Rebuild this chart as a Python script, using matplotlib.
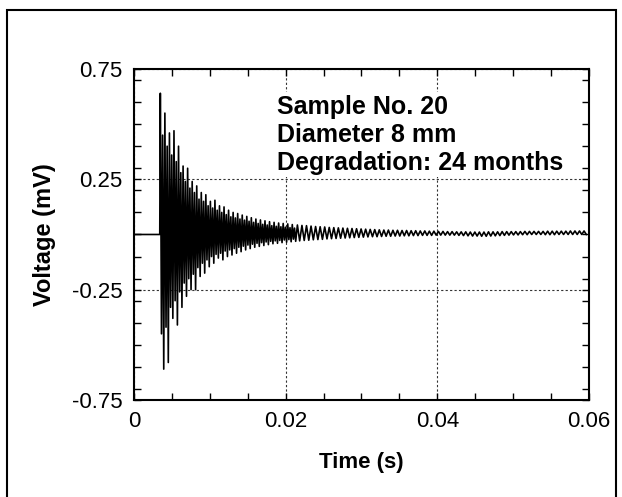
import matplotlib
matplotlib.use("Agg")
import matplotlib.pyplot as plt
from matplotlib.patches import Rectangle
from matplotlib.ticker import MultipleLocator
import numpy as np

plt.rcParams['font.family'] = ['Liberation Sans', 'DejaVu Sans']

# signal starts at the trigger time, one peak and one trough per cycle
t_start = 0.0034
period = 0.0006

# peak (max) voltage of each cycle, mV
peaks = [0.64, 0.55, 0.46, 0.47, 0.40, 0.31, 0.30, 0.24, 0.22, 0.19,
         0.18, 0.15, 0.155, 0.13, 0.125, 0.11, 0.10, 0.095, 0.088, 0.082,
         0.076, 0.07, 0.066, 0.062, 0.058, 0.055, 0.052, 0.05, 0.048, 0.045,
         0.043, 0.041, 0.04, 0.038, 0.036, 0.035, 0.034, 0.032, 0.031, 0.03,
         0.029, 0.028, 0.027, 0.026, 0.025, 0.024, 0.023, 0.022, 0.021, 0.02,
         0.02, 0.019, 0.019, 0.018, 0.018, 0.017, 0.017, 0.016, 0.016, 0.015,
         0.015, 0.014, 0.014, 0.013, 0.013, 0.012, 0.012, 0.012, 0.011, 0.011,
         0.011, 0.011, 0.012, 0.012, 0.012, 0.013, 0.013, 0.013, 0.013, 0.013,
         0.014, 0.014, 0.014, 0.014, 0.014, 0.015, 0.015, 0.015, 0.015, 0.015,
         0.016, 0.016, 0.016, 0.016]

# trough (min) voltage of each cycle, mV
troughs = [-0.61, -0.58, -0.38, -0.41, -0.33, -0.28, -0.25, -0.25, -0.19, -0.175,
           -0.146, -0.13, -0.107, -0.115, -0.10, -0.093, -0.085, -0.078, -0.07, -0.064,
           -0.058, -0.054, -0.05, -0.046, -0.042, -0.04, -0.037, -0.035, -0.033, -0.031,
           -0.029, -0.027, -0.026, -0.024, -0.023, -0.022, -0.02, -0.019, -0.018, -0.017,
           -0.016, -0.015, -0.014, -0.013, -0.012, -0.011, -0.01, -0.01, -0.009, -0.008,
           -0.008, -0.007, -0.007, -0.006, -0.006, -0.005, -0.005, -0.004, -0.004, -0.004,
           -0.003, -0.003, -0.003, -0.003, -0.003, -0.004, -0.005, -0.006, -0.007, -0.007,
           -0.008, -0.008, -0.007, -0.006, -0.005, -0.004, -0.003, -0.002, -0.002, -0.001,
           -0.001, 0.0, 0.0, 0.0, -0.001, -0.001, -0.001, 0.0, 0.0, 0.0,
           0.0, 0.0, 0.0, 0.0]

# secondary (inner) swing inside each of the first cycles, mV
inner_troughs = [-0.45, -0.42, -0.33, -0.30, -0.26, -0.22, -0.20, -0.18, -0.15, -0.13,
                 -0.115, -0.10, -0.09, -0.085, -0.075, -0.07, -0.064, -0.058, -0.053, -0.048,
                 -0.044, -0.04, -0.037, -0.034, -0.031, -0.029, -0.027, -0.025, -0.023, -0.021]
inner_peaks = [0.45, 0.40, 0.36, 0.33, 0.28, 0.24, 0.21, 0.19, 0.16, 0.15,
               0.13, 0.12, 0.11, 0.10, 0.09, 0.08, 0.075, 0.07, 0.065, 0.06,
               0.055, 0.05, 0.046, 0.043, 0.04, 0.037, 0.035, 0.033, 0.031, 0.029]

x_ticks = [0, 0.02, 0.04, 0.06]
x_labels = ['0', '0.02', '0.04', '0.06']
y_ticks = [-0.75, -0.25, 0.25, 0.75]
y_labels = ['-0.75', '-0.25', '0.25', '0.75']
note = "Sample No. 20\nDiameter 8 mm\nDegradation: 24 months"

# build the trace: flat before trigger, then the swings of each cycle
t = [0.0, t_start]
v = [0.0, 0.0]
for k in range(len(peaks)):
    c0 = t_start + k * period
    if k < len(inner_peaks):
        phases = [0.125, 0.375, 0.625, 0.875]
        vals = [peaks[k], inner_troughs[k], inner_peaks[k], troughs[k]]
    else:
        phases = [0.25, 0.75]
        vals = [peaks[k], troughs[k]]
    for p, val in zip(phases, vals):
        t.append(c0 + p * period)
        v.append(val)
t = np.array(t)
v = np.array(v)
keep = t <= 0.06
t, v = t[keep], v[keep]

fig = plt.figure(figsize=(6.22, 4.97), dpi=100)
ax = fig.add_axes([0.2154, 0.1952, 0.7315, 0.666])

ax.plot(t, v, color='black', lw=1.2)

ax.set_xlim(0, 0.06)
ax.set_ylim(-0.75, 0.75)
ax.set_xticks(x_ticks)
ax.set_xticklabels(x_labels)
ax.set_yticks(y_ticks)
ax.set_yticklabels(y_labels)
ax.xaxis.set_minor_locator(MultipleLocator(0.005))
ax.yaxis.set_minor_locator(MultipleLocator(0.1))
ax.tick_params(which='both', direction='in', top=True, right=True,
               length=5, width=1, labelsize=16, pad=8)

ax.grid(True, which='major', linestyle=(0, (2, 2)), color='#333333', lw=0.8)
for s in ax.spines.values():
    s.set_linewidth(1.5)

ax.set_xlabel('Time (s)', fontsize=16, fontweight='bold')
ax.set_ylabel('Voltage (mV)', fontsize=17, fontweight='bold')
ax.xaxis.label.set_va('center')
ax.yaxis.label.set_va('center')
ax.xaxis.set_label_coords(0.5, -0.19)
ax.yaxis.set_label_coords(-0.196, 0.5)

ax.text(0.314, 0.921, note, transform=ax.transAxes, ha='left', va='top',
        fontsize=18, fontweight='bold', linespacing=1.2,
        bbox=dict(facecolor='white', edgecolor='none', pad=2))

# frame around the whole picture
fig.patches.append(Rectangle((0.0113, -0.02), 0.9795, 0.9995, transform=fig.transFigure,
                             fill=False, edgecolor='black', lw=1.5))

fig.savefig('out.png', dpi=100)
